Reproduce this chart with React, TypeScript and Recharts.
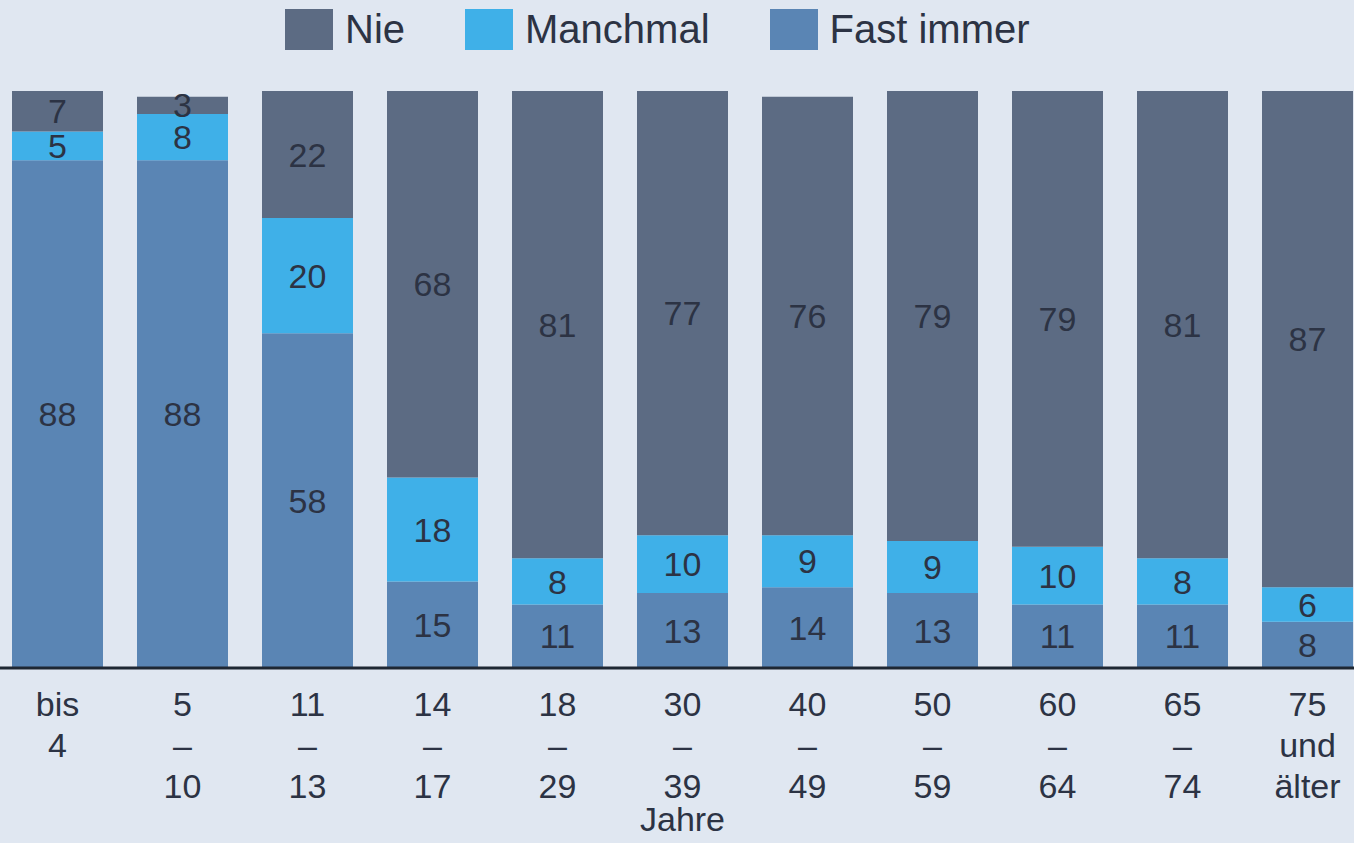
import React from "react";
import { BarChart, Bar, XAxis, YAxis, Legend, LabelList } from "recharts";

const categories = ["bis 4", "5 – 10", "11 – 13", "14 – 17", "18 – 29", "30 – 39", "40 – 49", "50 – 59", "60 – 64", "65 – 74", "75 und älter"];
const tickLines: string[][] = [
  ["bis", "4"],
  ["5", "–", "10"],
  ["11", "–", "13"],
  ["14", "–", "17"],
  ["18", "–", "29"],
  ["30", "–", "39"],
  ["40", "–", "49"],
  ["50", "–", "59"],
  ["60", "–", "64"],
  ["65", "–", "74"],
  ["75", "und", "älter"],
];
const nie = [7, 3, 22, 68, 81, 77, 76, 79, 79, 81, 87];
const manchmal = [5, 8, 20, 18, 8, 10, 9, 9, 10, 8, 6];
const fastImmer = [88, 88, 58, 15, 11, 13, 14, 13, 11, 11, 8];

const seriesNames = ["Nie", "Manchmal", "Fast immer"];
const COLORS = { nie: "#5c6b83", manchmal: "#3fb0e8", fast: "#5a85b4" };
const BG = "#e0e7f1";
const TEXT = "#2c3344";
const FONT = "'Liberation Sans', Arial, sans-serif";

const data = categories.map((c, i) => ({
  cat: c,
  idx: i,
  nie: nie[i],
  manchmal: manchmal[i],
  fast: fastImmer[i],
}));

const CatTick = (props: any) => {
  const { x, y, index } = props;
  const lines = tickLines[index] || [];
  const offsets = [48, 89, 130];
  return (
    <g>
      {lines.map((l, k) => (
        <text key={k} x={x} y={y + offsets[k]} textAnchor="middle" fontSize={34} fill={TEXT} fontFamily={FONT}>
          {l}
        </text>
      ))}
    </g>
  );
};

const legendColors = [COLORS.nie, COLORS.manchmal, COLORS.fast];

const LegendContent = () => (
  <div style={{ display: "flex", alignItems: "center", paddingLeft: 290, fontFamily: FONT, fontSize: 40, color: TEXT }}>
    {seriesNames.map((n, i) => (
      <div key={n} style={{ display: "flex", alignItems: "center", marginRight: 60 }}>
        <div style={{ width: 48, height: 41, background: legendColors[i], marginRight: 12 }} />
        <span style={{ lineHeight: "41px" }}>{n}</span>
      </div>
    ))}
  </div>
);

export default function App() {
  return (
    <div style={{ position: "absolute", left: 0, top: 0, width: 1354, height: 843, overflow: "hidden", background: BG }}>
      <div style={{ position: "absolute", left: -5, top: 0 }}>
        <BarChart width={1375} height={843} data={data} margin={{ top: 50, right: 0, bottom: 0, left: 0 }}>
          <Legend verticalAlign="top" align="left" content={<LegendContent />} wrapperStyle={{ top: 9, left: 0, width: 1375 }} />
          <YAxis hide domain={[0, 100]} allowDataOverflow type="number" />
          <XAxis
            dataKey="cat"
            height={175}
            interval={0}
            tickLine={false}
            tickSize={0}
            tickMargin={0}
            axisLine={{ stroke: "#1e2733", strokeWidth: 3 }}
            tick={<CatTick />}
            label={{ value: "Jahre", position: "insideBottom", offset: 12, fontSize: 34, fill: TEXT, fontFamily: FONT }}
          />
          <Bar dataKey="fast" stackId="a" fill={COLORS.fast} barSize={91} isAnimationActive={false}>
            <LabelList dataKey="fast" position="center" fontSize={34} fill={TEXT} fontFamily={FONT} />
          </Bar>
          <Bar dataKey="manchmal" stackId="a" fill={COLORS.manchmal} barSize={91} isAnimationActive={false}>
            <LabelList dataKey="manchmal" position="center" fontSize={34} fill={TEXT} fontFamily={FONT} />
          </Bar>
          <Bar dataKey="nie" stackId="a" fill={COLORS.nie} barSize={91} isAnimationActive={false}>
            <LabelList dataKey="nie" position="center" fontSize={34} fill={TEXT} fontFamily={FONT} />
          </Bar>
        </BarChart>
      </div>
    </div>
  );
}
